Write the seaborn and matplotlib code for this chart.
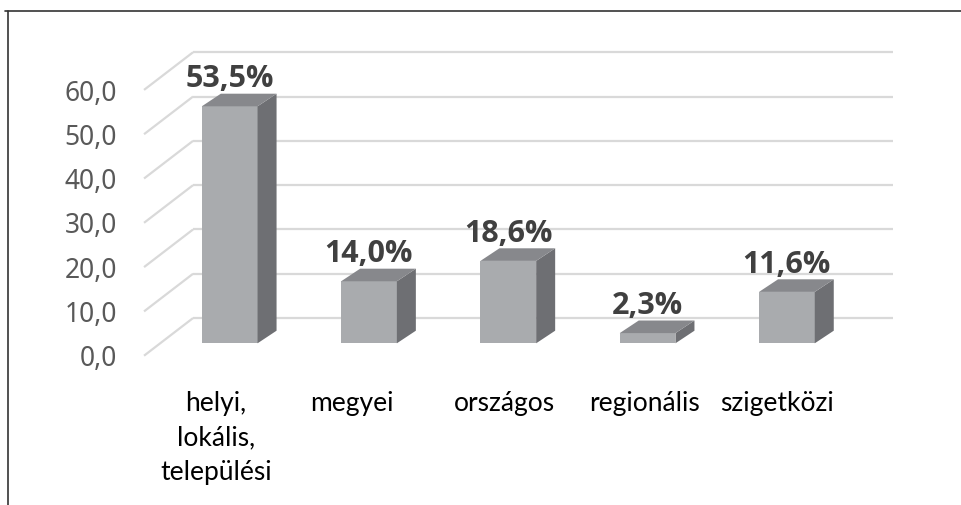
import matplotlib
matplotlib.use("Agg")
import matplotlib.pyplot as plt
import seaborn as sns
from matplotlib.patches import Polygon
from matplotlib.lines import Line2D

# Data
categories = ["helyi,\nlokális,\ntelepülési", "megyei", "országos", "regionális", "szigetközi"]
values = [53.5, 14.0, 18.6, 2.3, 11.6]
y_ticks = [0, 10, 20, 30, 40, 50, 60]

# Colours
FRONT = "#a9abae"
SIDE = "#6e6f73"
TOP = "#87888c"
GRID = "#d9d9d9"

# Layout (pixels in the 962x506 picture)
W, H = 962, 506
PX_CAT = 139.3      # distance between bar centres
PX_UNIT = 4.43      # pixels per value unit
X0 = 229.7          # centre of first bar
Y0 = 344.3          # value 0 on the front face of the bars
XLIM = (-0.8, 5.0)
YLIM = (-5, 70)

# 3D depth offsets in data units
DX = 19 / PX_CAT
DY = 12.6 / PX_UNIT

sns.set_style("white")
plt.rcParams["font.family"] = ["Open Sans", "DejaVu Sans"]

fig = plt.figure(figsize=(W / 100, H / 100), dpi=100)
left = X0 + XLIM[0] * PX_CAT
right = X0 + XLIM[1] * PX_CAT
bottom = Y0 - YLIM[0] * PX_UNIT
top = Y0 - YLIM[1] * PX_UNIT
ax = fig.add_axes([left / W, (H - bottom) / H, (right - left) / W, (bottom - top) / H])

sns.barplot(x=categories, y=values, color=FRONT, width=0.4, saturation=1,
            ax=ax, zorder=3)
ax.set_xlim(*XLIM)
ax.set_ylim(*YLIM)
ax.set_axis_off()

# gridlines: side wall diagonals + back wall horizontals
wall_front_x, wall_back_x, wall_right_x = -0.615, -0.263, 4.762
front_dy, back_dy = -2.8, 5.7
for v in y_ticks:
    ax.plot([wall_front_x, wall_back_x], [v + front_dy, v + back_dy],
            color=GRID, lw=1.6, zorder=1, solid_capstyle="butt")
    ax.plot([wall_back_x, wall_right_x], [v + back_dy, v + back_dy],
            color=GRID, lw=1.6, zorder=1, solid_capstyle="butt")
    ax.text(-0.81, v + front_dy - 0.6, f"{v:.1f}".replace(".", ","),
            ha="right", va="center", fontsize=19, color="#595959",
            family=["Noto Sans", "DejaVu Sans"])

# 3D sides and tops of the bars
for bar, v in zip(ax.patches, values):
    x, y = bar.get_x(), bar.get_y()
    w, h = bar.get_width(), bar.get_height()
    bar.set_edgecolor("none")
    side = [(x + w, y), (x + w + DX, y + DY), (x + w + DX, y + h + DY), (x + w, y + h)]
    cap = [(x, y + h), (x + DX, y + h + DY), (x + w + DX, y + h + DY), (x + w, y + h)]
    ax.add_patch(Polygon(side, closed=True, facecolor=SIDE, edgecolor="none", zorder=3))
    ax.add_patch(Polygon(cap, closed=True, facecolor=TOP, edgecolor="none", zorder=3))
    ax.text(x + w / 2, y + h + 4.5, f"{v:.1f}%".replace(".", ","),
            ha="center", va="baseline", fontsize=22, fontweight="bold", color="#404040")

# category labels
label_shift = [-0.1, -0.12, -0.03, -0.02, -0.07]
for i, cat in enumerate(categories):
    ax.text(i + label_shift[i], -10.6, cat, ha="center", va="top", fontsize=19,
            color="#000000", family=["Lato", "DejaVu Sans"], linespacing=1.47)

# frame around the figure (cropped at right and bottom)
fig.add_artist(Line2D([5 / W, 1], [1 - 12 / H, 1 - 12 / H], color="#333333", lw=1.2))
fig.add_artist(Line2D([8 / W, 8 / W], [0, 1 - 12 / H], color="#333333", lw=1.2))

fig.savefig("out.png", dpi=100)
